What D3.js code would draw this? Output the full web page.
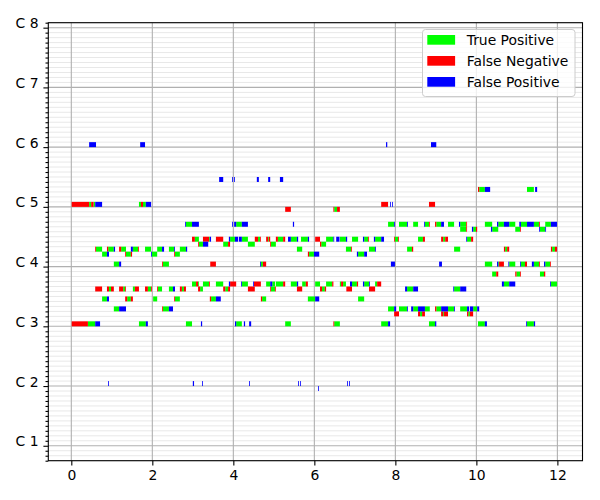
<!DOCTYPE html>
<html><head><meta charset="utf-8">
<script src="https://cdn.jsdelivr.net/npm/d3@7"></script>
<style>body{margin:0;background:#fff}svg{display:block}text{font-family:"DejaVu Sans",sans-serif}</style>
</head><body><svg id="chart" width="600" height="500"></svg>
<script>
// [pitch, start, end]
const truePositive = [
[72,0.44,0.49],[72,0.55,0.59],[72,1.67,1.72],[72,1.77,1.84],
[75,10.07,10.21],[75,11.25,11.42],
[71,6.49,6.56],
[68,2.83,2.98],[68,4.07,4.21],[68,7.82,7.97],[68,8.09,8.29],[68,8.44,8.56],[68,8.73,8.83],[68,9.01,9.13],[68,9.30,9.45],[68,9.60,9.75],[68,10.21,10.39],[68,10.54,10.68],[68,10.81,10.96],[68,11.10,11.25],[68,11.42,11.55],[68,11.70,11.84],
[67,9.60,9.75],[67,9.92,9.99],[67,10.39,10.54],[67,10.96,11.08],[67,11.57,11.70],
[65,3.05,3.15],[65,3.40,3.42],[65,3.92,4.04],[65,4.21,4.36],[65,4.61,4.66],[65,4.86,4.88],[65,5.10,5.23],[65,5.42,5.57],[65,5.67,5.84],[65,6.29,6.47],[65,6.63,6.78],[65,6.93,7.08],[65,7.23,7.33],[65,7.50,7.65],[65,7.99,8.07],[65,8.56,8.68],[65,9.18,9.23],[65,9.77,9.87],
[64,3.15,3.25],[64,3.75,3.87],[64,4.36,4.53],[64,4.93,5.05],[64,6.17,6.29],
[63,0.61,0.76],[63,0.91,1.05],[63,1.23,1.35],[63,1.52,1.65],[63,1.82,1.97],[63,2.12,2.24],[63,2.41,2.54],[63,2.68,2.83],[63,5.57,5.70],[63,6.78,6.91],[63,7.35,7.50],[63,8.29,8.41],[63,9.45,9.60],[63,10.71,10.76],[63,11.87,11.94],
[62,0.76,0.88],[62,1.35,1.47],[62,1.99,2.12],[62,2.56,2.68],[62,5.87,5.99],[62,7.08,7.23],
[60,1.05,1.18],[60,2.26,2.41],[60,4.68,4.73],[60,10.21,10.39],[60,10.54,10.56],[60,10.81,10.96],[60,11.10,11.20],[60,11.42,11.55],[60,11.70,11.82],
[58,10.39,10.49],[58,10.99,11.08],[58,11.57,11.67],
[56,2.98,3.08],[56,3.13,3.15],[56,3.25,3.40],[56,3.57,3.75],[56,4.21,4.36],[56,4.81,4.91],[56,4.96,5.03],[56,5.05,5.23],[56,5.42,5.57],[56,5.70,5.79],[56,6.02,6.14],[56,6.29,6.44],[56,6.63,6.66],[56,6.71,6.78],[56,6.93,7.05],[56,7.23,7.35],[56,7.50,7.55],[56,10.68,10.81],[56,11.84,11.99],
[55,0.93,0.98],[55,1.28,1.33],[55,1.52,1.57],[55,1.89,1.97],[55,2.14,2.24],[55,2.41,2.51],[55,2.73,2.78],[55,3.18,3.25],[55,3.80,3.87],[55,4.93,5.03],[55,6.19,6.26],[55,8.29,8.44],[55,9.45,9.60],
[53,0.76,0.88],[53,1.38,1.47],[53,2.02,2.12],[53,2.56,2.68],[53,3.45,3.57],[53,4.71,4.81],[53,5.84,6.02],[53,7.08,7.23],
[51,1.05,1.18],[51,2.26,2.41],[51,7.82,7.97],[51,8.09,8.29],[51,8.44,8.56],[51,8.73,8.85],[51,9.01,9.13],[51,9.30,9.45],[51,9.60,9.77],[51,9.92,10.02],
[50,8.61,8.66],[50,9.18,9.20],[50,9.80,9.84],
[48,0.41,0.59],[48,1.67,1.84],[48,2.83,2.98],[48,4.07,4.21],[48,5.28,5.42],[48,6.49,6.63],[48,7.65,7.82],[48,8.83,8.98],[48,10.04,10.21],[48,11.25,11.42]
];
const falseNegative = [
[72,0.01,0.44],[72,0.49,0.55],[72,1.72,1.77],[72,7.65,7.82],[72,8.83,8.98],
[75,10.04,10.07],
[71,5.28,5.42],[71,6.47,6.49],[71,6.56,6.63],
[68,8.83,8.85],[68,8.98,9.01],[68,9.75,9.77],[68,11.55,11.57],
[67,9.75,9.77],[67,9.99,10.02],[67,11.08,11.10],
[65,2.98,3.05],[65,3.25,3.40],[65,3.57,3.75],[65,4.53,4.61],[65,4.66,4.68],[65,4.81,4.86],[65,4.88,4.91],[65,5.05,5.10],[65,5.23,5.28],[65,6.02,6.14],[65,7.33,7.35],[65,7.97,7.99],[65,8.07,8.09],[65,8.68,8.73],[65,9.13,9.18],[65,9.23,9.30],[65,9.87,9.92],
[64,3.13,3.15],[64,3.87,3.92],[64,4.91,4.93],[64,6.14,6.17],
[63,0.59,0.61],[63,0.88,0.91],[63,1.18,1.23],[63,1.65,1.67],[63,6.91,6.93],[63,8.41,8.44],[63,10.68,10.71],[63,10.76,10.81],[63,11.84,11.87],[63,11.94,11.99],
[62,1.33,1.35],[62,1.47,1.50],[62,2.54,2.56],[62,5.84,5.87],
[60,2.24,2.26],[60,3.43,3.57],[60,4.73,4.81],[60,10.56,10.68],[60,11.20,11.25],[60,11.55,11.57],[60,11.82,11.84],
[58,10.49,10.54],[58,10.96,10.99],[58,11.08,11.10],[58,11.67,11.70],
[56,3.08,3.13],[56,3.40,3.42],[56,3.92,4.07],[56,4.51,4.68],[56,5.23,5.28],[56,5.79,5.84],[56,6.44,6.47],[56,6.66,6.71],[56,7.05,7.08],[56,7.55,7.65],
[55,0.59,0.76],[55,0.88,0.93],[55,0.98,1.05],[55,1.18,1.28],[55,1.33,1.35],[55,1.57,1.67],[55,1.82,1.89],[55,1.97,1.99],[55,2.12,2.14],[55,2.68,2.73],[55,2.78,2.83],[55,3.13,3.18],[55,3.75,3.80],[55,3.87,3.92],[55,4.36,4.53],[55,4.91,4.93],[55,5.03,5.05],[55,5.57,5.70],[55,6.14,6.19],[55,6.26,6.29],[55,6.79,6.93],[55,7.35,7.50],
[53,1.33,1.38],[53,1.47,1.52],[53,2.54,2.56],[53,3.42,3.45],[53,4.68,4.71],
[51,2.24,2.26],[51,8.98,9.01],
[50,7.97,8.09],[50,8.56,8.61],[50,8.66,8.73],[50,9.13,9.18],[50,9.20,9.30],[50,9.77,9.80],[50,9.84,9.92],
[48,0.01,0.41],[48,6.47,6.49]
];
const falsePositive = [
[84,0.44,0.61],[84,1.70,1.82],[84,7.77,7.80],[84,8.88,9.01],
[77,3.65,3.75],[77,3.97,3.99],[77,4.02,4.04],[77,4.58,4.63],[77,4.86,4.91],[77,5.15,5.23],
[75,10.21,10.34],[75,11.45,11.50],
[72,0.59,0.76],[72,1.84,1.97],[72,7.87,7.89],[72,7.92,7.94],
[68,2.81,2.83],[68,2.98,3.15],[68,3.97,3.99],[68,4.02,4.07],[68,4.21,4.36],[68,5.47,5.50],[68,7.97,7.99],[68,8.29,8.31],[68,8.71,8.73],[68,9.13,9.20],[68,9.57,9.60],[68,10.51,10.54],[68,10.68,10.81],[68,11.06,11.10],[68,11.25,11.42],[68,11.84,11.99],
[67,9.89,9.92],[67,10.36,10.39],[67,11.55,11.57],[67,11.70,11.72],
[65,3.42,3.45],[65,3.89,3.92],[65,4.04,4.12],[65,4.14,4.21],[65,5.35,5.42],[65,5.57,5.60],[65,5.84,5.87],[65,6.47,6.49],[65,6.54,6.62],[65,6.78,6.81],[65,7.20,7.23],[65,7.47,7.50],[65,7.65,7.72],[65,9.75,9.77],
[64,3.25,3.38],
[63,1.05,1.08],[63,1.47,1.52],[63,2.24,2.29],[63,2.54,2.56],[63,2.83,2.86],[63,7.50,7.52],
[62,0.88,0.93],[62,1.97,1.99],[62,5.99,6.12],[62,7.05,7.08],[62,7.23,7.30],
[60,1.18,1.23],[60,4.66,4.68],[60,7.89,7.99],[60,9.08,9.15],[60,10.51,10.54],[60,10.79,10.81],[60,11.08,11.10],[60,11.37,11.42],[60,11.67,11.70],
[56,3.89,3.92],[56,4.19,4.21],[56,4.49,4.51],[56,4.91,4.96],[56,5.57,5.60],[56,6.88,6.93],[56,7.20,7.23],[56,7.35,7.37],[56,10.63,10.68],[56,10.81,10.96],[56,11.82,11.84],
[55,2.51,2.56],[55,8.24,8.29],[55,8.44,8.56],[55,9.43,9.45],[55,9.60,9.75],
[53,0.88,0.93],[53,3.57,3.69],[53,6.02,6.12],
[51,1.18,1.35],[51,2.41,2.51],[51,7.97,8.02],[51,8.29,8.31],[51,8.39,8.44],[51,8.56,8.73],[51,9.13,9.30],[51,9.45,9.47],[51,9.77,9.82],[51,9.84,9.92],[51,10.02,10.07],
[48,0.59,0.71],[48,1.84,1.89],[48,3.20,3.23],[48,4.04,4.07],[48,4.26,4.29],[48,4.39,4.44],[48,7.82,7.87],[48,8.98,9.01],[48,10.21,10.26],[48,11.23,11.25],[48,11.42,11.45],
[36,0.91,0.93],[36,3.00,3.03],[36,3.23,3.25],[36,4.39,4.41],[36,5.60,5.62],[36,5.65,5.67],[36,6.81,6.83],[36,6.86,6.88],
[35,6.09,6.11]
];
const xTicks = [0,2,4,6,8,10,12];
const yTicks = [24,36,48,60,72,84,96,108];
const yTickLabels = ["C 1","C 2","C 3","C 4","C 5","C 6","C 7","C 8"];
const legendLabels = ["True Positive","False Negative","False Positive"];
const colors = ["#00ff00","#ff0000","#0000ff"];

const L=48.3, R=582.5, T=22.7, B=460.7;
const x = d3.scaleLinear().domain([-0.568, 12.62]).range([L, R]);
const y = d3.scaleLinear().domain([21, 109]).range([B, T]);
const svg = d3.select("#chart");
const fs = 13.9;

// minor grid
const minorVals = d3.range(21, 110).filter(v => v % 12 !== 0);
svg.append("g").selectAll("line").data(minorVals).join("line")
  .attr("x1", L).attr("x2", R).attr("y1", d=>y(d)).attr("y2", d=>y(d))
  .attr("stroke", "#e8e8e8").attr("stroke-width", 1);
// major grid
svg.append("g").selectAll("line").data(yTicks).join("line")
  .attr("x1", L).attr("x2", R).attr("y1", d=>y(d)).attr("y2", d=>y(d))
  .attr("stroke", "#b0b0b0").attr("stroke-width", 1.1);
svg.append("g").selectAll("line").data(xTicks).join("line")
  .attr("y1", T).attr("y2", B).attr("x1", d=>x(d)).attr("x2", d=>x(d))
  .attr("stroke", "#b0b0b0").attr("stroke-width", 1.1);

// notes
const groups = [truePositive, falseNegative, falsePositive];
groups.forEach((arr, i) => {
  svg.append("g").selectAll("rect").data(arr).join("rect")
    .attr("x", d => x(d[1]))
    .attr("width", d => Math.max(0.8, x(d[2]) - x(d[1])))
    .attr("y", d => y(d[0] + 1))
    .attr("height", d => y(d[0]) - y(d[0] + 1))
    .attr("fill", colors[i]);
});

// axes
const xAxis = svg.append("g").attr("transform", `translate(0,${B})`)
  .call(d3.axisBottom(x).tickValues(xTicks).tickFormat(d3.format("d")).tickSize(4.9).tickPadding(4.9));
const yAxisMinor = svg.append("g").attr("transform", `translate(${L},0)`)
  .call(d3.axisLeft(y).tickValues(minorVals).tickFormat("").tickSize(2.8));
const yAxis = svg.append("g").attr("transform", `translate(${L},0)`)
  .call(d3.axisLeft(y).tickValues(yTicks).tickFormat((d,i)=>yTickLabels[i]).tickSize(4.9).tickPadding(4.9));
yAxis.selectAll(".tick text").attr("dy", "0");
[xAxis, yAxis, yAxisMinor].forEach(g => {
  g.selectAll(".domain").remove();
  g.selectAll(".tick line").attr("stroke", "#000").attr("stroke-width", 1.1);
  g.selectAll("text").attr("font-size", fs).attr("fill", "#000").attr("font-family", "DejaVu Sans");
});
// frame
svg.append("rect").attr("x", L).attr("y", T).attr("width", R-L).attr("height", B-T)
  .attr("fill", "none").attr("stroke", "#000").attr("stroke-width", 1.1);

// legend
const lg = svg.append("g");
lg.append("rect").attr("x", 422.5).attr("y", 29.5).attr("width", 152.5).attr("height", 67)
  .attr("rx", 3).attr("fill", "#fff").attr("fill-opacity", 0.8).attr("stroke", "#cccccc").attr("stroke-width", 1);
legendLabels.forEach((lab, i) => {
  const yy = 35 + i * 21;
  lg.append("rect").attr("x", 427.3).attr("y", yy).attr("width", 27.8).attr("height", 9.7).attr("fill", colors[i]);
  lg.append("text").attr("x", 466.7).attr("y", yy + 10).attr("font-size", fs).attr("fill", "#000").text(lab);
});
</script></body></html>
